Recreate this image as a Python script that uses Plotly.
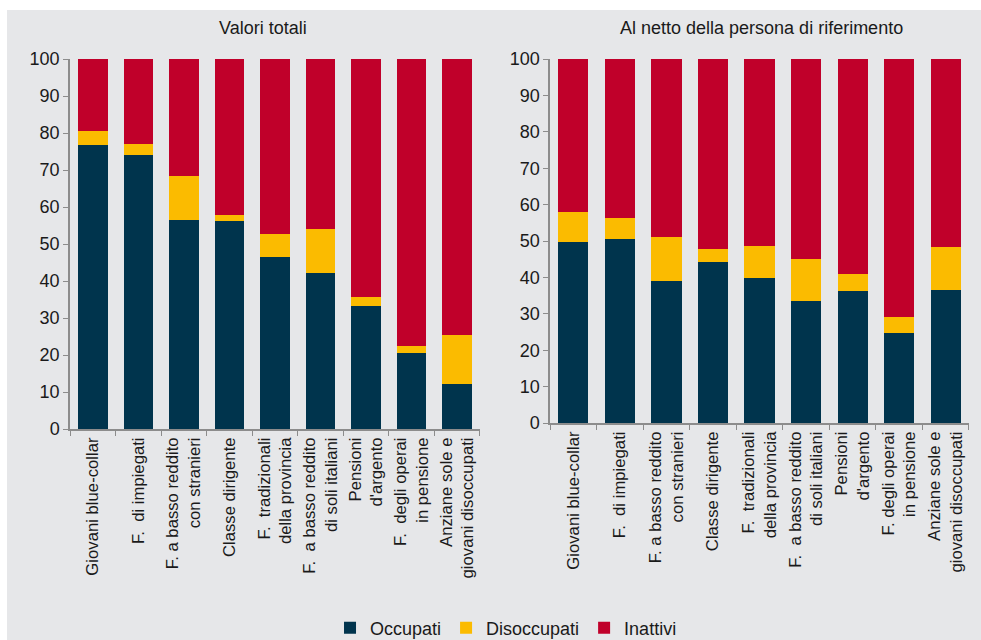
import plotly.graph_objects as go

NB = "\u00a0"
labels_left = [
    "Giovani blue-collar",
    "F." + NB * 2 + "di impiegati",
    "F. a basso reddito<br>con stranieri",
    "Classe dirigente",
    "F." + NB * 2 + "tradizionali<br>della provincia",
    "F." + NB * 2 + "a basso reddito<br>di soli italiani",
    "Pensioni<br>d'argento",
    "F." + NB * 2 + "degli operai<br>in pensione",
    "Anziane sole e<br>giovani disoccupati",
]
labels_right = [
    "Giovani blue-collar",
    "F." + NB * 2 + "di impiegati",
    "F. a basso reddito<br>con stranieri",
    "Classe dirigente",
    "F." + NB * 2 + "tradizionali<br>della provincia",
    "F." + NB * 2 + "a basso reddito<br>di soli italiani",
    "Pensioni<br>d'argento",
    "F. degli operai<br>in pensione",
    "Anziane sole e<br>giovani disoccupati",
]

# Valori totali
occ_tot = [76.7, 74.1, 56.5, 56.1, 46.4, 42.2, 33.2, 20.5, 12.2]
dis_tot = [3.9, 3.0, 12.0, 1.8, 6.4, 11.9, 2.6, 1.8, 13.1]
# Al netto della persona di riferimento
occ_net = [49.7, 50.6, 38.9, 44.2, 39.9, 33.5, 36.2, 24.8, 36.6]
dis_net = [8.3, 5.8, 12.2, 3.6, 8.7, 11.6, 4.8, 4.3, 11.7]

ina_tot = [round(100 - o - d, 1) for o, d in zip(occ_tot, dis_tot)]
ina_net = [round(100 - o - d, 1) for o, d in zip(occ_net, dis_net)]

colors = {"Occupati": "#00344d", "Disoccupati": "#fbbb00", "Inattivi": "#c0002a"}
font = "Liberation Sans, Arial, sans-serif"

fig = go.Figure()
for name, vals_l, vals_r in [
    ("Occupati", occ_tot, occ_net),
    ("Disoccupati", dis_tot, dis_net),
    ("Inattivi", ina_tot, ina_net),
]:
    fig.add_trace(go.Bar(name=name, x=labels_left, y=vals_l, marker_color=colors[name],
                         marker_line_width=0, xaxis="x", yaxis="y", legendgroup=name))
    fig.add_trace(go.Bar(name=name, x=labels_right, y=vals_r, marker_color=colors[name],
                         marker_line_width=0, xaxis="x2", yaxis="y2", legendgroup=name,
                         showlegend=False))

axis_common = dict(showline=True, linecolor="#8c8c8c", linewidth=1.5, ticks="outside",
                   tickcolor="#8c8c8c", ticklen=5, showgrid=False, zeroline=False)
xaxis_common = dict(axis_common, tickangle=-90, tickson="boundaries",
                    tickfont=dict(size=16.7, color="#1a1a1a", family=font))
yaxis_common = dict(axis_common, range=[0, 100], dtick=10,
                    tickfont=dict(size=18, color="#1a1a1a", family=font))

fig.update_layout(
    width=984, height=640,
    barmode="stack", bargap=0.35,
    paper_bgcolor="#e6e7e9", plot_bgcolor="rgba(0,0,0,0)",
    margin=dict(l=63, r=22, t=49, b=221),
    font=dict(family=font, color="#1a1a1a"),
    xaxis=dict(xaxis_common, domain=[0, 0.456], anchor="y"),
    yaxis=dict(yaxis_common, domain=[0, 1], anchor="x"),
    xaxis2=dict(xaxis_common, domain=[0.534, 1], anchor="y2"),
    yaxis2=dict(yaxis_common, domain=[0.016, 1], anchor="x2"),
    legend=dict(orientation="h", xref="paper", x=0.485, xanchor="center",
                yref="container", y=(640 - 618) / 640, yanchor="middle",
                font=dict(size=18, family=font), traceorder="normal",
                itemwidth=30, bgcolor="rgba(0,0,0,0)"),
    annotations=[
        dict(text="Valori totali", xref="paper", yref="paper", x=0.2147, y=1.084,
             xanchor="center", yanchor="middle", showarrow=False,
             font=dict(size=18, family=font)),
        dict(text="Al netto della persona di riferimento", xref="paper", yref="paper",
             x=0.7697, y=1.084, xanchor="center", yanchor="middle", showarrow=False,
             font=dict(size=18, family=font)),
    ],
)

# keep the page exactly the size of the window (no scrollbars)
fig.write_html("out.html",
               post_script="document.body.style.margin='10px 0 0 7px';"
                           "document.body.style.overflow='hidden';")
